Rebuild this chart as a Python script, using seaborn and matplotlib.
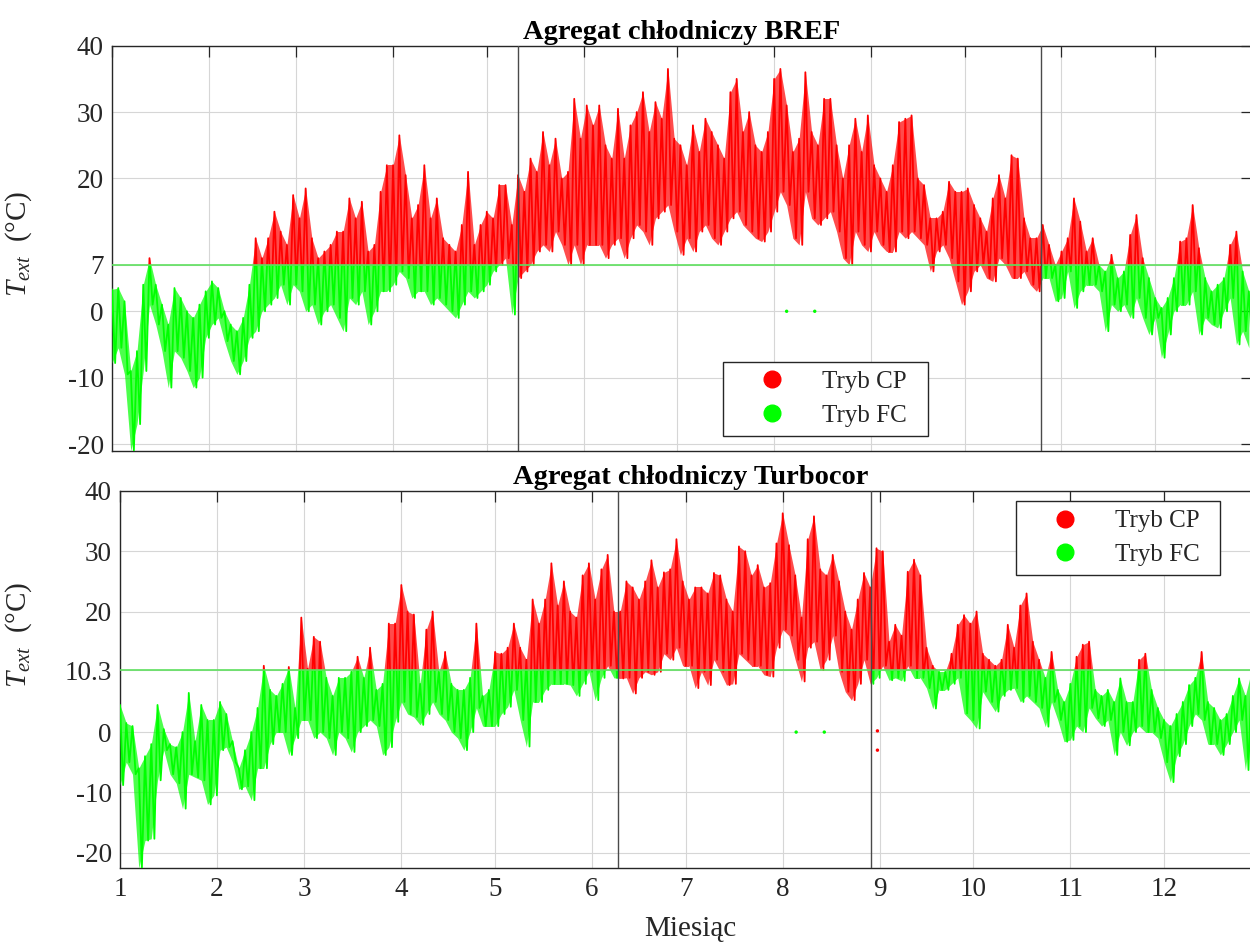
import numpy as np
import pandas as pd
import matplotlib
matplotlib.use("Agg")
import matplotlib.pyplot as plt
import seaborn as sns
from matplotlib.path import Path
from matplotlib.lines import Line2D

sns.set_theme(style="white")
plt.rcParams["font.family"] = ["Liberation Serif", "DejaVu Serif"]
plt.rcParams["mathtext.fontset"] = "custom"
plt.rcParams["mathtext.rm"] = "Liberation Serif"
plt.rcParams["mathtext.it"] = "Liberation Serif:italic"

# ---------------- data ----------------
# day of year (every 2nd day); daily max / min of T_ext
days = np.arange(0, 365, 2)

bref_hi = [3.3, 3.5, 1.5, -9, -6, 4, 8, 4, 1, -2,
           3.5, 2, 0, -1, 1, 3, 4.5, 3.5, 0, -2,
           -3, -1, 4, 11, 8, 11, 15, 12, 10, 17.5,
           14, 18.5,
           11, 8, 9, 10, 12, 12, 17, 14, 16.5, 9,
           10, 18, 22, 22, 26.5, 20.5, 14, 16, 22, 14,
           17, 11, 10, 9, 13, 21, 10, 13, 15, 14,
           19,
           19, 13, 20.5, 18, 23, 21, 27, 22, 26, 20,
           21, 32, 26, 31, 28, 31, 25, 23, 30.5, 23,
           28, 30, 33, 27, 31.5, 29, 36.5, 26, 25, 22,
           28, 24, 29, 27, 25, 23, 33, 35, 27, 30,
           25, 24, 27, 35, 36.5, 31, 24, 26, 36, 27,
           25, 32, 32, 25, 20, 25, 29, 24, 29.5, 22,
           20, 18, 22, 28.5, 29, 29.5, 20, 19, 14, 14,
           15, 19.5, 18, 18, 18.5, 16, 14, 12, 17, 20.5,
           17, 23.5, 23, 14, 11, 11, 13, 10, 7, 9,
           11,
           17, 13.5, 9, 11, 7, 6, 8.5, 5, 6, 11.5,
           14.5, 8, 5, 2, 0.5, 2, 5, 10.5, 11, 16,
           9.5, 5, 3, 4, 5, 10, 12, 6, 3]
bref_lo = [-7.8, -5.5, -9.5, -21, -17, -9, 1, -2, -6, -11.5,
           -6, -7, -9, -11.5, -10, -4, -2, -1, -4.5, -7.5,
           -9.5, -7.5, -4, -3, 0, 1, 2, 4, 1, 4,
           3, 0,
           1, -2, 0, 1, -1, -3, 2, 1, 3, -2,
           0, 3, 3, 4, 6, 5, 2, 3, 3, 1,
           2, 1, 0, -1, 1, 3, 2, 3, 4, 6,
           7,
           8, -0.5, 5, 6, 7, 9, 10, 9, 12, 10,
           7, 10, 7, 10, 10, 10, 8, 10, 11, 8,
           11, 13, 12, 10, 14, 15, 16, 12, 8.5, 11,
           9, 12, 13, 11, 10, 12, 14, 15, 13, 12,
           11, 10.5, 12, 15, 18, 16, 11, 10, 18, 14,
           13, 14, 15, 12, 8, 7, 12, 10, 9, 12,
           10, 9, 9, 12, 11, 12, 11, 10, 6, 9,
           10, 8, 4.5, 1, 3, 6, 7, 5, 4.5, 8,
           7, 5, 5, 6, 4, 3, 5, 5, 1.5, 2,
           6,
           0.5, 3, 4, 4, 3, -3, 1, 0, 1, -1,
           2, -1, -3.5, -1, -7, -3.5, 0, 1, 1, 3,
           -3.5, -1, -2, -2.5, 0, 2, -5, -3, -5.5]

turbo_hi = [4.5, 1.5, 1, -6, -4, -2, 4.5, 0.5, -2, -2.5,
            0, 6.5, -1.5, 4.5, 2, 2, 5, 3, -1.5, -6,
            -3, 0, 4, 11, 7, 6, 8, 10.8, 4, 19,
            10.5,
            15.8, 15, 9, 6, 9, 9, 10, 12.5, 9, 14,
            7, 8, 18, 18, 24.4, 20, 19.5, 8, 17, 20,
            10, 13.3, 8, 7, 7, 9, 18, 6, 7, 13.3,
            13, 14, 18, 14, 12, 22, 18, 22, 28, 21,
            25, 20, 19, 26, 28, 22, 27, 29.4, 20, 20,
            25, 24, 22, 25, 28.5, 24, 26.5, 27, 32, 25,
            22,
            24, 24, 23, 26.4, 26, 22, 20, 30.8, 30, 26,
            27.7, 24, 24.7, 31.3, 36.3, 31, 26, 19, 32, 35.8,
            27, 26, 29.4, 25, 20, 17, 22, 26.4, 24, 30.5,
            30, 15, 17.8, 16, 26.6, 28.6, 26, 14, 11, 10,
            10, 13, 17.8, 19.4, 18, 20, 13, 12, 11, 12,
            17.8, 14, 21, 23, 15, 12, 9, 13.3, 7, 5,
            8, 12.5, 14.5, 15, 7, 6, 7, 5, 8.9, 5,
            5, 12, 13, 7, 4, 2, 1, 3, 5, 7.8,
            9, 13.3, 5, 4, 2, 3, 6, 8.9, 6, 10.3,
            8]
turbo_lo = [-8.8, -5, -7, -22.6, -18, -17.7, -8, -3, -7, -8.5,
            -12.7, -7, -7.5, -8, -12, -10.5, -3, -2.5, -5, -9.5,
            -9, -11.3, -6, -6, -2, 0, 0, -3.8, -1, 2,
            2,
            -1, 0, -1, -3.8, 0, -1, -3.3, 0, 1, 2,
            1, -3.8, -2.5, 1.7, 5, 3, 2.5, 1.2, 3, 5,
            3, 2, 0, -1, -3, 0, 4, 1, 1, 1,
            3, 4.2, 7, 2, -2.4, 5, 5, 7, 8, 8,
            8, 7.8, 6, 8, 10, 5.3, 9, 11, 9, 8.9,
            9, 6.4, 9, 10, 9.5, 10, 13, 12, 14, 11,
            11,
            7.3, 10, 7.8, 12, 10, 7.8, 8, 13, 12, 11,
            11, 9.5, 9.2, 14, 17, 16, 12, 8.4, 14, 15,
            10.3, 12, 16, 10, 6.7, 5.3, 8, 12, 8, 9,
            11, 8.6, 9, 8.5, 11, 9, 9, 7.3, 3.9, 7,
            7, 8, 9, 3.1, 2, 0.6, 6.7, 5, 3.4, 6,
            7, 7.3, 5, 6, 5, 4, 0.9, 5, 2, -1.6,
            -1.3, 1, 0, 4, 2.3, 1, 2, -3.8, 0, -2.2,
            0, 1, 0, 0, -1, -5, -8.3, -4, -2, 1,
            3, 2, -2, -2, -3.8, -2, 0, 2, -6.3, 2,
            -1]

# isolated samples
bref_stray_day = [216, 225]
bref_stray_t = [0, 0]
bref_stray_mode = ["FC", "FC"]
turbo_stray_day = [216.3, 225.3, 242.3, 242.3]
turbo_stray_t = [0, 0, 0.2, -3.0]
turbo_stray_mode = ["FC", "FC", "CP", "CP"]

# switching thresholds and period boundaries (day of year)
bref_threshold = 7
bref_period = (130.0, 297.4)
turbo_threshold = 10.3
turbo_period = (159.3, 240.1)

month_start = [0, 31, 59, 90, 120, 151, 181, 212, 243, 273, 304, 334]
month_labels = [str(m) for m in range(1, 13)]

bref_yticks = [-20, -10, 0, 7, 20, 30, 40]
turbo_yticks = [-20, -10, 0, 10.3, 20, 30, 40]
bref_ylabels = ["-20", "-10", "0", "7", "20", "30", "40"]
turbo_ylabels = ["-20", "-10", "0", "10.3", "20", "30", "40"]

RED = "#ff0000"
GREEN = "#00ff00"
DARK = "#262626"

fig = plt.figure(figsize=(12.5, 9.46), dpi=100)
ax1 = fig.add_axes([112 / 1250, (946 - 450.7) / 946, 1140 / 1250, 405 / 946])
ax2 = fig.add_axes([120 / 1250, (946 - 868.3) / 946, 1141 / 1250, 377.3 / 946])


def rect(x0, x1, y0, y1):
    return Path([(x0, y0), (x1, y0), (x1, y1), (x0, y1), (x0, y0)], closed=True)


def panel(ax, hi, lo, thr, period, sday, st, smode, yticks, ylabels, ylim, title):
    hi = np.asarray(hi, float)
    lo = np.asarray(lo, float)
    clip_fc = Path.make_compound_path(rect(-50, period[0], -100, thr),
                                      rect(period[1], 500, -100, thr))
    clip_cp = Path.make_compound_path(rect(-50, 500, thr, 100),
                                      rect(period[0], period[1], -100, thr))
    # daily swing: max at the day, min one day later
    n = len(days)
    zx = np.empty(2 * n)
    zt = np.empty(2 * n)
    zx[0::2] = days
    zx[1::2] = days + 1
    zt[0::2] = hi
    zt[1::2] = lo
    zdf = pd.DataFrame({"day": zx, "T": zt})
    for color, clip in [(RED, clip_cp), (GREEN, clip_fc)]:
        band = ax.fill_between(days, lo, hi, color=color, lw=0, alpha=0.7,
                               zorder=3)
        band.set_clip_path(clip, ax.transData)
        n0 = len(ax.lines)
        sns.lineplot(data=zdf, x="day", y="T", estimator=None, sort=False,
                     color=color, lw=1.3, ax=ax, zorder=4)
        for ln in ax.lines[n0:]:
            ln.set_clip_path(clip, ax.transData)

    sdf = pd.DataFrame({"day": sday, "T": st, "mode": smode})
    sns.scatterplot(data=sdf, x="day", y="T", hue="mode",
                    palette={"CP": RED, "FC": GREEN}, s=6, linewidth=0,
                    ax=ax, legend=False, zorder=5)

    ax.axhline(thr, color="#5ee05e", lw=1.2, zorder=6)
    for p in period:
        ax.axvline(p, color="#4a4a4a", lw=1.0, zorder=6)

    ax.set_xlim(0, 365)
    ax.set_ylim(*ylim)
    ax.set_xticks(month_start)
    ax.set_yticks(yticks)
    ax.set_yticklabels(ylabels)
    ax.grid(True, color="#d6d6d6", lw=0.8, zorder=0)
    ax.set_axisbelow(True)
    ax.tick_params(direction="in", length=8, width=0.9, top=True, right=True,
                   labelsize=19.5, colors=DARK, pad=6)
    for s in ax.spines.values():
        s.set_color(DARK)
        s.set_linewidth(1.0)
    ax.set_title(title, fontweight="bold", fontsize=20.5, pad=5, color="black")
    ax.set_ylabel(r"$T_{ext}$  (°C)", fontsize=21, color=DARK)
    ax.set_xlabel("")


panel(ax1, bref_hi, bref_lo, bref_threshold, bref_period, bref_stray_day,
      bref_stray_t, bref_stray_mode, bref_yticks, bref_ylabels, (-21, 40),
      "Agregat chłodniczy BREF")
panel(ax2, turbo_hi, turbo_lo, turbo_threshold, turbo_period, turbo_stray_day,
      turbo_stray_t, turbo_stray_mode, turbo_yticks, turbo_ylabels, (-22.6, 40),
      "Agregat chłodniczy Turbocor")

ax1.tick_params(labelbottom=False)
ax2.set_xticklabels(month_labels)
ax2.set_xlabel("Miesiąc", fontsize=21, color=DARK, labelpad=10)

ax1.yaxis.set_label_coords(-0.068, 0.51)
ax2.yaxis.set_label_coords(-0.075, 0.62)

handles = [Line2D([], [], marker="o", ls="", color=RED, markersize=12),
           Line2D([], [], marker="o", ls="", color=GREEN, markersize=12)]
labels = ["Tryb CP", "Tryb FC"]
for ax, bb in [(ax1, (723 / 1250, (946 - 437) / 946, 205 / 1250, 75 / 946)),
               (ax2, (1016 / 1250, (946 - 576) / 946, 204 / 1250, 75 / 946))]:
    leg = ax.legend(handles, labels, loc="upper left", bbox_to_anchor=bb,
                    bbox_transform=fig.transFigure, mode="expand",
                    borderaxespad=0, fontsize=18, handlelength=3.2,
                    handletextpad=0.4, labelspacing=0.45, borderpad=0.35,
                    fancybox=False, framealpha=1, edgecolor=DARK)
    leg.get_frame().set_linewidth(1.0)
    leg.set_zorder(10)

fig.savefig("out.png", dpi=100)
